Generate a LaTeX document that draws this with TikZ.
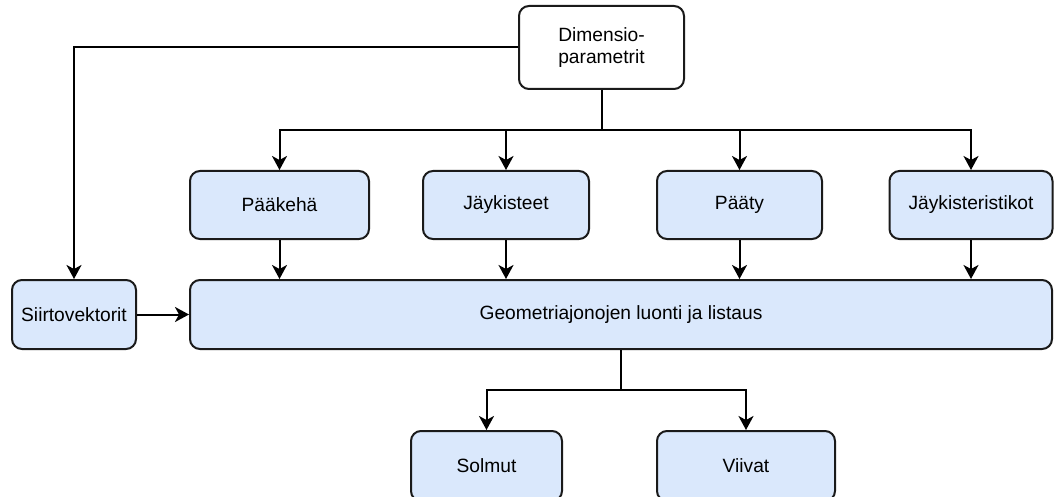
\documentclass[tikz,border=0pt]{standalone}
\usepackage{fontspec}
\setmainfont{Liberation Sans}
\usetikzlibrary{arrows.meta}
\definecolor{boxblue}{HTML}{DAE8FC}
\definecolor{ink}{HTML}{1A1A1A}
\tikzset{
  box/.style={draw=ink, line width=2pt, rounded corners=10pt, fill=boxblue,
    inner sep=0pt, align=center, text=black,
    font=\fontsize{19.2pt}{22pt}\selectfont},
  topbox/.style={box, fill=white},
  conn/.style={draw=black, line width=2pt},
  arr/.style={conn, -{Stealth[length=14pt, width=15pt, inset=4pt]}}
}
\begin{document}
\begin{tikzpicture}[x=1pt, y=-1pt]
\useasboundingbox (0,0) rectangle (1054,497);

% source of all dimensions
\node[topbox, minimum width=165pt, minimum height=83pt] (dim) at (601.5,47.5) {Dimensio-\\parametrit};

% component generators
\node[box, minimum width=179pt, minimum height=68pt] (pk) at (279.5,205) {Pääkehä};
\node[box, minimum width=166pt, minimum height=68pt] (jk) at (506,205) {Jäykisteet};
\node[box, minimum width=165pt, minimum height=68pt] (pt) at (739.5,205) {Pääty};
\node[box, minimum width=163pt, minimum height=68pt] (jr) at (971,205) {Jäykisteristikot};

% assembly row
\node[box, minimum width=124pt, minimum height=69pt] (sv) at (74,314.5) {Siirtovektorit};
\node[box, minimum width=862pt, minimum height=69pt] (geo) at (621,314.5) {Geometriajonojen luonti ja listaus};

% outputs (their lower edge runs past the page)
\node[box, minimum width=151pt, minimum height=70pt] (so) at (486.5,466) {Solmut};
\node[box, minimum width=178pt, minimum height=70pt] (vi) at (746,466) {Viivat};

% junction points of the branching connectors
\coordinate (busA) at (601.5,130);
\coordinate (busB) at (621,390);

% dimensions to the generators
\draw[conn] (dim.south) -- (busA);
\draw[arr] (busA) -| (pk.north);
\draw[arr] (busA) -| (jk.north);
\draw[arr] (busA) -| (pt.north);
\draw[arr] (busA) -| (jr.north);

% dimensions to the translation vectors
\draw[arr] (dim.west) -| (sv.north);

% generators into the assembly
\draw[arr] (pk.south) -- (pk.south |- geo.north);
\draw[arr] (jk.south) -- (jk.south |- geo.north);
\draw[arr] (pt.south) -- (pt.south |- geo.north);
\draw[arr] (jr.south) -- (jr.south |- geo.north);
\draw[arr] (sv.east) -- (geo.west);

% assembly to outputs
\draw[conn] (geo.south) -- (busB);
\draw[arr] (busB) -| (so.north);
\draw[arr] (busB) -| (vi.north);
\end{tikzpicture}
\end{document}
